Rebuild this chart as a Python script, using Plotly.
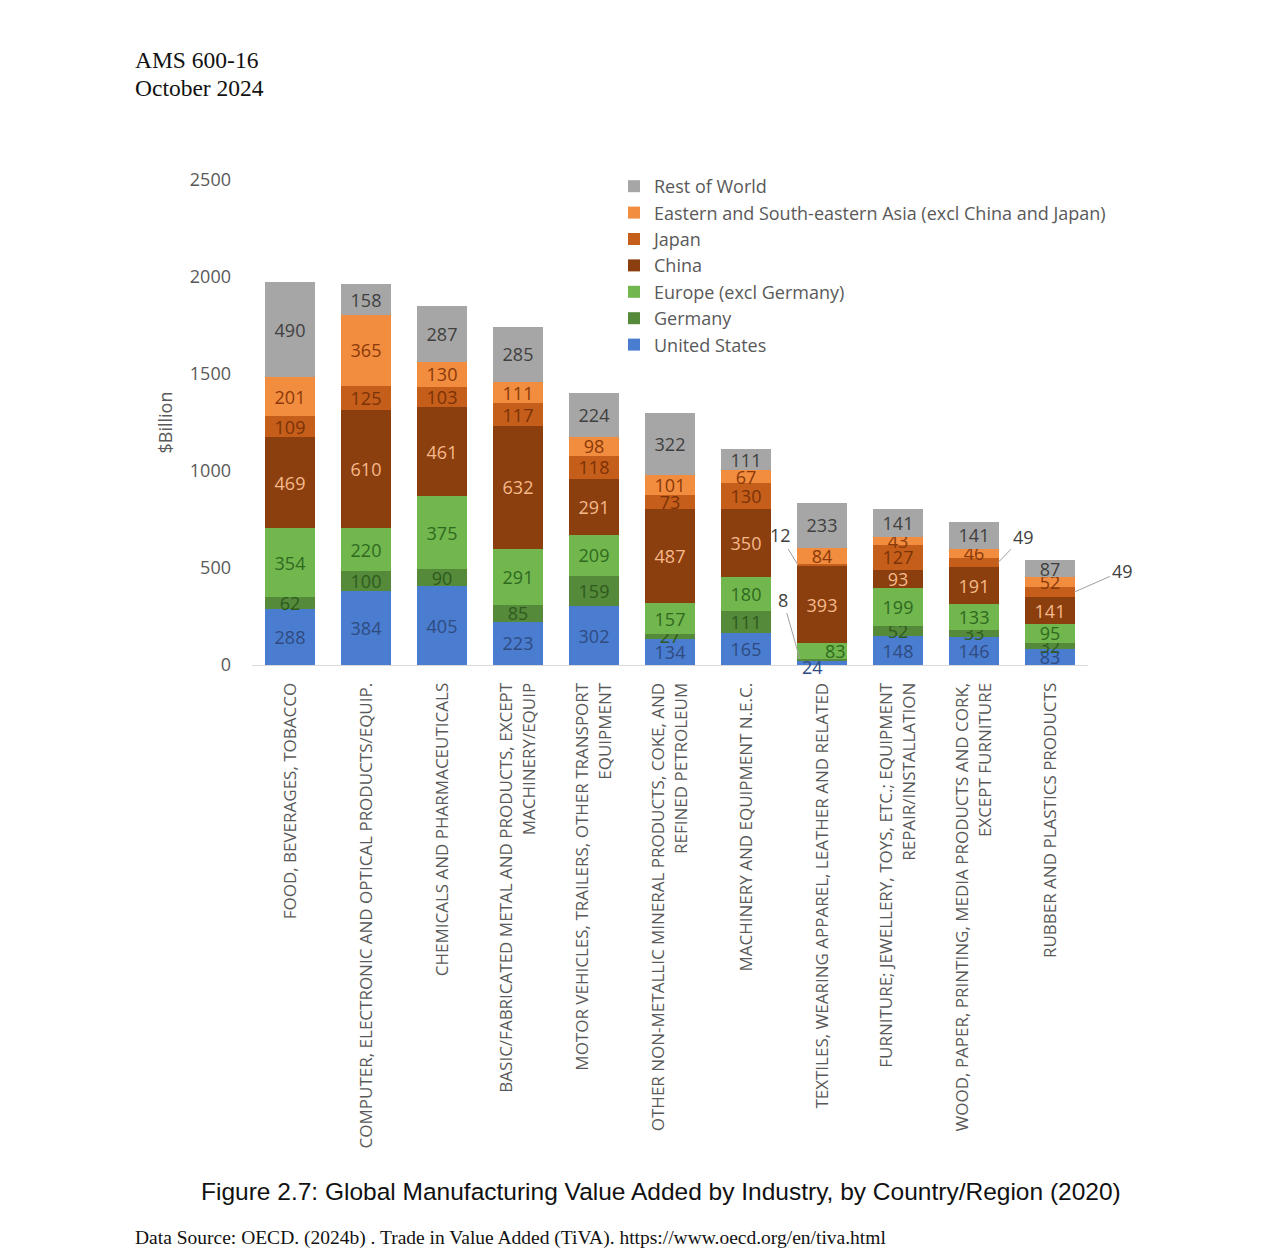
import plotly.graph_objects as go

categories = [
    "FOOD, BEVERAGES, TOBACCO",
    "COMPUTER, ELECTRONIC AND OPTICAL PRODUCTS/EQUIP.",
    "CHEMICALS AND PHARMACEUTICALS",
    "BASIC/FABRICATED METAL AND PRODUCTS, EXCEPT<br>MACHINERY/EQUIP",
    "MOTOR VEHICLES, TRAILERS, OTHER TRANSPORT<br>EQUIPMENT",
    "OTHER NON-METALLIC MINERAL PRODUCTS, COKE, AND<br>REFINED PETROLEUM",
    "MACHINERY AND EQUIPMENT N.E.C.",
    "TEXTILES, WEARING APPAREL, LEATHER AND RELATED",
    "FURNITURE; JEWELLERY, TOYS, ETC.; EQUIPMENT<br>REPAIR/INSTALLATION",
    "WOOD, PAPER, PRINTING, MEDIA PRODUCTS AND CORK,<br>EXCEPT FURNITURE",
    "RUBBER AND PLASTICS PRODUCTS",
]

united_states = [288, 384, 405, 223, 302, 134, 165, 24, 148, 146, 83]
germany = [62, 100, 90, 85, 159, 27, 111, 8, 52, 33, 32]
europe_excl_germany = [354, 220, 375, 291, 209, 157, 180, 83, 199, 133, 95]
china = [469, 610, 461, 632, 291, 487, 350, 393, 93, 191, 141]
japan = [109, 125, 103, 117, 118, 73, 130, 12, 127, 49, 49]
east_se_asia = [201, 365, 130, 111, 98, 101, 67, 84, 43, 46, 52]
rest_of_world = [490, 158, 287, 285, 224, 322, 111, 233, 141, 141, 87]

y_ticks = [0, 500, 1000, 1500, 2000, 2500]

series = [
    ("United States", united_states, "#4A7DD0", "#2F4B80"),
    ("Germany", germany, "#548A3A", "#2F5A1E"),
    ("Europe (excl Germany)", europe_excl_germany, "#72B64E", "#2F6A1E"),
    ("China", china, "#8B3E0E", "#F6B98A"),
    ("Japan", japan, "#C55E1A", "#7A3208"),
    ("Eastern and South-eastern Asia (excl China and Japan)", east_se_asia, "#F28C3E", "#8A3A0A"),
    ("Rest of World", rest_of_world, "#A6A6A6", "#404040"),
]

# segments labelled outside the bar (category index, series name)
outside = {(7, "United States"), (7, "Germany"), (7, "Japan"), (7, "Europe (excl Germany)"),
           (9, "Japan"), (10, "Japan")}

fig = go.Figure()
for name, vals, col, tcol in series:
    texts = ["" if (i, name) in outside else str(v) for i, v in enumerate(vals)]
    fig.add_trace(go.Bar(
        x=categories, y=vals, name=name, marker=dict(color=col, line=dict(width=0)),
        text=texts, textposition="inside", insidetextanchor="middle", textangle=0,
        textfont=dict(family="Open Sans, sans-serif", size=18, color=tcol),
        cliponaxis=False, hoverinfo="skip",
    ))

OFF = 8  # page body margin
W, H = 1284 - 2 * OFF, 1259 - 2 * OFF
L, R, T, B = 252 - OFF, 1088 - OFF, 180 - OFF, 665 - OFF


def px(x, y):
    """page pixel -> paper coords"""
    return (x - OFF - L) / (R - L), (B - (y - OFF)) / (B - T)


anns = []


def cum(i, upto):
    s = 0
    for nm, vals, _, _ in series:
        if nm == upto:
            return s, s + vals[i]
        s += vals[i]
    return s, s


lead_col = "#A0A0A0"
lab_font = dict(family="Open Sans, sans-serif", size=18, color="#404040")

# Textiles: Japan (12)
lo, hi = cum(7, "Japan")
anns.append(dict(x=categories[7], y=(lo + hi) / 2, xref="x", yref="y", text=str(japan[7]),
                 showarrow=True, arrowhead=0, arrowwidth=1, arrowcolor=lead_col,
                 ax=-18, ay=-30, xshift=-24, font=lab_font))
# Textiles: Germany (8)
lo, hi = cum(7, "Germany")
anns.append(dict(x=categories[7], y=(lo + hi) / 2, xref="x", yref="y", text=str(germany[7]),
                 showarrow=True, arrowhead=0, arrowwidth=1, arrowcolor=lead_col,
                 ax=-17, ay=-60, xshift=-22, font=lab_font))
# Textiles: US (24)
anns.append(dict(x=categories[7], y=0, xref="x", yref="y", text=str(united_states[7]),
                 showarrow=False, xshift=-10, yshift=-2, font=dict(lab_font, color="#2F4B80")))
# Textiles: Europe (83)
lo, hi = cum(7, "Europe (excl Germany)")
anns.append(dict(x=categories[7], y=(lo + hi) / 2, xref="x", yref="y", text=str(europe_excl_germany[7]),
                 showarrow=False, xshift=13, font=dict(lab_font, color="#2F6A1E")))
# Wood: Japan (49)
lo, hi = cum(9, "Japan")
anns.append(dict(x=categories[9], y=(lo + hi) / 2, xref="x", yref="y", text=str(japan[9]),
                 showarrow=True, arrowhead=0, arrowwidth=1, arrowcolor=lead_col,
                 ax=25, ay=-26, xshift=24, font=lab_font))
# Rubber: Japan (49)
lo, hi = cum(10, "Japan")
anns.append(dict(x=categories[10], y=(lo + hi) / 2, xref="x", yref="y", text=str(japan[10]),
                 showarrow=True, arrowhead=0, arrowwidth=1, arrowcolor=lead_col,
                 ax=48, ay=-21, xshift=24, font=lab_font))

# header / footer texts
serif = "Liberation Serif, Times New Roman, serif"
for txt, x, y, f, s, anchor in [
    ("AMS 600-16", 133, 60, serif, 23.5, "left"),
    ("October 2024", 133, 88, serif, 23.5, "left"),
    ("Figure 2.7: Global Manufacturing Value Added by Industry, by Country/Region (2020)", 661, 1191,
     "Liberation Sans, Arial, sans-serif", 24.5, "center"),
    ("Data Source: OECD. (2024b) . Trade in Value Added (TiVA). https://www.oecd.org/en/tiva.html", 133, 1238,
     serif, 19.5, "left"),
]:
    xx, yy = px(x, y)
    anns.append(dict(x=xx, y=yy, xref="paper", yref="paper", text=txt, showarrow=False,
                     xanchor=anchor, yanchor="middle", font=dict(family=f, size=s, color="#111111")))

lx, ly = px(614, 168)
fig.update_layout(
    width=W, height=H,
    margin=dict(l=L, r=W - R, t=T, b=H - B, autoexpand=False),
    paper_bgcolor="white", plot_bgcolor="white",
    barmode="stack", bargap=0.355,
    uniformtext=dict(mode="show", minsize=18),
    showlegend=True,
    legend=dict(x=lx, y=ly, xanchor="left", yanchor="top", traceorder="reversed",
                font=dict(family="Open Sans, sans-serif", size=18, color="#595959"),
                bgcolor="rgba(0,0,0,0)", itemwidth=30, tracegroupgap=0),
    xaxis=dict(range=[-0.5, len(categories) - 0.5], autorange=False,
               tickangle=-90, showgrid=False, showline=True, linecolor="#D9D9D9", linewidth=1,
               ticks="", ticklabelstandoff=10,
               tickfont=dict(family="Open Sans, sans-serif", size=17, color="#595959")),
    yaxis=dict(range=[0, 2500], autorange=False, tickvals=y_ticks, showgrid=False, zeroline=False,
               showline=False, ticks="", ticklabelstandoff=20,
               tickfont=dict(family="Open Sans, sans-serif", size=18, color="#595959"),
               title=dict(text="$Billion", standoff=12,
                          font=dict(family="Open Sans, sans-serif", size=18, color="#595959"))),
    annotations=anns,
)

fig.write_html("out.html")
